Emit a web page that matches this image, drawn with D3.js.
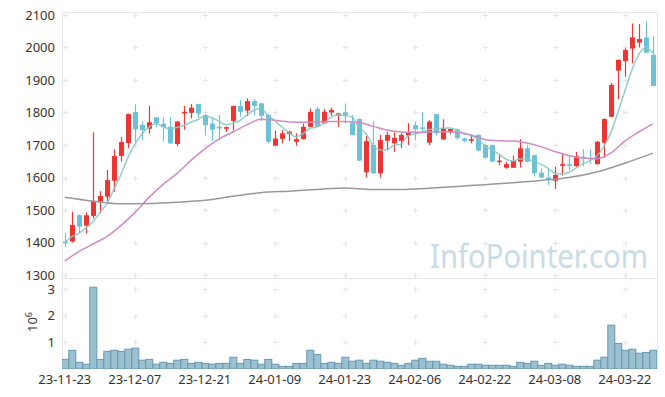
<!DOCTYPE html>
<html><head><meta charset="utf-8">
<script src="https://cdn.jsdelivr.net/npm/d3@7"></script>
<style>body{margin:0;background:#fff}svg{display:block}text{font-family:"Noto Sans",sans-serif}</style>
</head><body><svg id="c" width="665" height="397"></svg>
<script>
const tickIdx=[0,10,20,30,40,50,60,70,80];
const tickLabels=["23-11-23","23-12-07","23-12-21","24-01-09","24-01-23","24-02-06","24-02-22","24-03-08","24-03-22"];
const opens=[1403,1403,1484,1452,1482,1526,1541,1590,1666,1706,1801,1762,1750,1785,1765,1756,1703,1799,1799,1826,1792,1766,1756,1750,1774,1820,1806,1835,1828,1792,1698,1719,1734,1710,1718,1756,1811,1767,1800,1791,1800,1769,1780,1616,1700,1613,1713,1705,1713,1729,1761,1754,1707,1795,1717,1741,1748,1720,1713,1731,1700,1700,1649,1630,1630,1649,1690,1669,1615,1600,1590,1636,1641,1635,1664,1661,1641,1707,1787,1929,1958,1997,2015,2031,1977];
const highs=[1428,1495,1486,1493,1739,1558,1623,1687,1724,1797,1825,1772,1820,1787,1784,1787,1774,1820,1826,1827,1795,1782,1792,1757,1821,1838,1844,1841,1830,1795,1744,1746,1744,1736,1766,1812,1818,1810,1815,1799,1828,1792,1782,1728,1772,1731,1741,1739,1736,1767,1772,1802,1777,1796,1779,1750,1751,1723,1731,1733,1702,1701,1670,1649,1668,1718,1700,1670,1628,1630,1633,1676,1667,1679,1687,1685,1712,1782,1892,1963,1999,2074,2072,2079,2035];
const lows=[1387,1400,1430,1428,1474,1490,1526,1556,1649,1690,1710,1715,1735,1756,1712,1703,1696,1747,1782,1783,1729,1713,1715,1740,1745,1787,1789,1792,1773,1706,1697,1705,1712,1698,1717,1754,1755,1765,1790,1756,1767,1730,1650,1600,1611,1600,1685,1679,1690,1700,1715,1736,1700,1729,1716,1733,1717,1708,1705,1680,1658,1647,1638,1627,1630,1631,1647,1603,1598,1577,1565,1606,1623,1633,1635,1642,1640,1661,1785,1841,1910,1951,2000,1983,1880];
const closes=[1398,1454,1449,1484,1528,1543,1592,1666,1709,1795,1748,1746,1770,1767,1755,1705,1772,1802,1815,1797,1761,1747,1751,1755,1820,1802,1835,1820,1790,1710,1720,1736,1741,1718,1756,1802,1757,1802,1808,1797,1790,1731,1652,1712,1613,1715,1731,1722,1731,1738,1749,1750,1772,1736,1751,1749,1721,1713,1718,1683,1661,1649,1652,1641,1651,1690,1649,1613,1600,1593,1608,1641,1636,1666,1660,1657,1710,1780,1885,1962,1992,2031,2026,1984,1882];
const volumes=[360000,700000,250000,180000,3060000,360000,660000,700000,660000,740000,780000,330000,360000,180000,250000,210000,330000,360000,210000,250000,210000,180000,210000,210000,440000,210000,360000,330000,180000,360000,180000,100000,100000,210000,210000,700000,540000,210000,250000,210000,440000,290000,330000,210000,330000,290000,250000,210000,140000,210000,330000,400000,290000,290000,180000,140000,100000,100000,180000,180000,140000,140000,140000,140000,100000,250000,210000,290000,140000,210000,140000,180000,140000,100000,100000,100000,330000,440000,1640000,960000,700000,740000,590000,620000,700000];
const ma5=[1400,1418,1428,1444,1463,1492,1519,1563,1608,1661,1702,1733,1754,1765,1757,1749,1754,1760,1770,1778,1789,1784,1774,1762,1767,1775,1793,1806,1813,1791,1775,1755,1739,1725,1734,1751,1755,1767,1785,1793,1791,1786,1756,1736,1700,1685,1685,1699,1702,1727,1734,1738,1748,1749,1752,1752,1746,1734,1730,1717,1699,1685,1673,1657,1651,1657,1657,1649,1641,1629,1613,1611,1616,1629,1642,1652,1666,1695,1738,1799,1866,1930,1979,1999,1983];
const ma20Idx=[0,2,4,6,8,10,12,14,16,18,20,22,24,26,28,30,32,34,36,38,40,42,44,46,48,50,52,54,56,58,60,62,64,66,68,70,72,74,76,78,80,82,84];
const ma20=[1343,1372,1395,1418,1452,1492,1538,1578,1612,1652,1688,1718,1740,1762,1779,1776,1771,1770,1771,1772,1772,1769,1758,1746,1740,1739,1740,1741,1740,1731,1717,1713,1712,1706,1695,1680,1668,1660,1658,1675,1712,1740,1765];
const ma60Idx=[0,4,8,12,16,20,24,28,32,36,40,44,48,52,56,60,64,68,72,76,80,84];
const ma60=[1539,1527,1519,1520,1524,1530,1542,1553,1558,1563,1568,1563,1563,1567,1572,1578,1584,1591,1600,1617,1644,1675];
const priceTicks=[1300,1400,1500,1600,1700,1800,1900,2000,2100];
const volTicks=[1000000,2000000,3000000];
const volTickLabels=["1","2","3"];

const L=62,R=657,T=12,PB=278,VT=279,VB=369;
const svg=d3.select("#c");
const x=d3.scaleLinear().domain([-0.4,84.6]).range([L,R]);
const y=d3.scaleLinear().domain([1290.8,2109.2]).range([PB,T]);
const yv=d3.scaleLinear().domain([0,3370000]).range([VB,VT]);
const idx=d3.range(closes.length);

// grid crosses
const grid=svg.append("g").attr("stroke","#e3e3e3").attr("stroke-width",1);
function cross(cx,cy){grid.append("line").attr("x1",cx-2.5).attr("x2",cx+2.5).attr("y1",cy).attr("y2",cy);
 grid.append("line").attr("x1",cx).attr("x2",cx).attr("y1",cy-2.5).attr("y2",cy+2.5);}
tickIdx.forEach(i=>{priceTicks.forEach(v=>cross(Math.round(x(i))+0.5,Math.round(y(v))+0.5));
 volTicks.forEach(v=>cross(Math.round(x(i))+0.5,Math.round(yv(v))+0.5));});

// borders
const bc="#e6e6e6";
svg.append("line").attr("x1",L).attr("x2",R).attr("y1",T+0.5).attr("y2",T+0.5).attr("stroke",bc);
svg.append("line").attr("x1",L).attr("x2",R).attr("y1",PB+0.5).attr("y2",PB+0.5).attr("stroke",bc);
svg.append("line").attr("x1",L+0.5).attr("x2",L+0.5).attr("y1",T).attr("y2",VB).attr("stroke",bc);
svg.append("line").attr("x1",R+0.5).attr("x2",R+0.5).attr("y1",T).attr("y2",VB).attr("stroke",bc);

// watermark
svg.append("text").attr("x",430).attr("y",268).attr("font-size",32).attr("fill","#c9dce6")
 .attr("textLength",218).attr("lengthAdjust","spacingAndGlyphs").text("InfoPointer.com");

const clip=svg.append("defs").append("clipPath").attr("id","pc");
clip.append("rect").attr("x",L).attr("y",T).attr("width",R-L).attr("height",VB-T);
const plot=svg.append("g").attr("clip-path","url(#pc)");

// volume
plot.append("g").selectAll("rect").data(idx).join("rect")
 .attr("x",i=>x(i)-3.5+0.5).attr("width",7).attr("y",i=>yv(volumes[i])).attr("height",i=>yv(0)-yv(volumes[i]))
 .attr("fill","#9bc1d1").attr("stroke","#6797af").attr("stroke-width",1);

// candles
const red="#ef3434",blue="#6bc1d8";
const cg=plot.append("g");
cg.selectAll("line").data(idx).join("line")
 .attr("x1",i=>Math.round(x(i))+0.5).attr("x2",i=>Math.round(x(i))+0.5)
 .attr("y1",i=>y(highs[i])).attr("y2",i=>y(lows[i]))
 .attr("stroke",i=>closes[i]>=opens[i]?red:blue).attr("stroke-width",1.2);
cg.selectAll("rect").data(idx).join("rect")
 .attr("x",i=>Math.round(x(i))-2).attr("width",5)
 .attr("y",i=>y(Math.max(opens[i],closes[i])))
 .attr("height",i=>Math.max(1.5,Math.abs(y(opens[i])-y(closes[i]))))
 .attr("fill",i=>closes[i]>=opens[i]?red:blue);

// moving averages
const l5=d3.line().x((d,i)=>x(i)).y(d=>y(d)).curve(d3.curveMonotoneX);
plot.append("path").attr("d",l5(ma5)).attr("fill","none").attr("stroke","#86cbc3").attr("stroke-width",1.5).attr("opacity",0.9);
const l20=d3.line().x((d,k)=>x(ma20Idx[k])).y(d=>y(d)).curve(d3.curveMonotoneX);
plot.append("path").attr("d",l20(ma20)).attr("fill","none").attr("stroke","#cf8cc4").attr("stroke-width",1.5);
const l60=d3.line().x((d,k)=>x(ma60Idx[k])).y(d=>y(d)).curve(d3.curveMonotoneX);
plot.append("path").attr("d",l60(ma60)).attr("fill","none").attr("stroke","#999").attr("stroke-width",1.5);

// axes labels
const lab=svg.append("g").attr("fill","#333").attr("font-size",13);
priceTicks.forEach(v=>lab.append("text").attr("x",55).attr("y",y(v)).attr("dy","0.36em").attr("text-anchor","end").text(v));
volTicks.forEach((v,k)=>lab.append("text").attr("x",55).attr("y",yv(v)).attr("dy","0.36em").attr("text-anchor","end").text(volTickLabels[k]));
tickIdx.forEach((i,k)=>lab.append("text").attr("x",x(i)).attr("y",384).attr("text-anchor","middle").text(tickLabels[k]));
const vl=lab.append("text").attr("transform","translate(37,322) rotate(-90)").attr("text-anchor","middle");
vl.append("tspan").text("10");
vl.append("tspan").attr("dy",-5).attr("font-size",9).text("6");
</script></body></html>
